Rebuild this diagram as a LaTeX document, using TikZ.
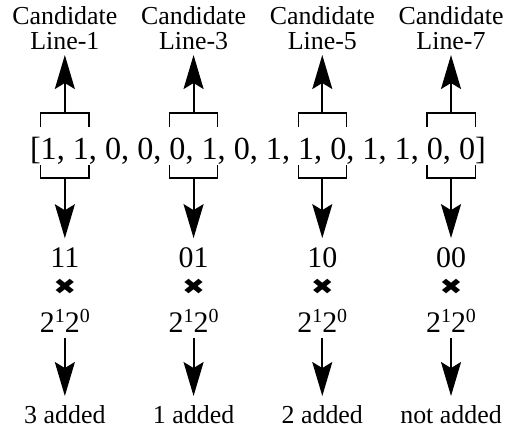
\documentclass[tikz,border=0pt]{standalone}
\usepackage{fontspec}
\setmainfont{Liberation Serif}
\newfontfamily\symfont{DejaVu Sans}
\usetikzlibrary{arrows.meta}
\newcommand{\supr}[1]{\raisebox{10bp}{\fontsize{20}{20}\selectfont #1}}
\begin{document}
\begin{tikzpicture}[x=1bp,y=-1bp,
  every node/.style={inner sep=0pt, outer sep=0pt},
  lbl/.style={font=\fontsize{26}{28}\selectfont},
  big/.style={font=\fontsize{32.3}{34}\selectfont},
  num/.style={font=\fontsize{30}{32}\selectfont},
  timesx/.style={font=\symfont\fontsize{22}{24}\selectfont, xscale=1.25},
  arr/.style={line width=2bp, -{Stealth[length=34bp,width=20bp,inset=6bp]}},
  brk/.style={line width=1.3bp}]
\useasboundingbox (0,0) rectangle (506,432);
% reference heights
\coordinate (yTop) at (0,113);
\coordinate (yTopLow) at (0,127);
\coordinate (yBotHigh) at (0,165);
\coordinate (yBot) at (0,178);
\coordinate (yCand) at (0,24);
\coordinate (yLine) at (0,49);
\coordinate (yVal) at (0,267);
\coordinate (yTimes) at (0,287);
\coordinate (yPow) at (0,332);
\coordinate (yRes) at (0,423);
% the array, built in pieces
\node[big, anchor=base west] (b0) at (30,159) {[};
\node[big, anchor=base west] (p1) at (b0.base east) {1,~1};
\node[big, anchor=base west] (s1) at (p1.base east) {,~0,~0,~\mbox{}};
\node[big, anchor=base west] (p2) at (s1.base east) {0,~1};
\node[big, anchor=base west] (s2) at (p2.base east) {,~0,~1,~\mbox{}};
\node[big, anchor=base west] (p3) at (s2.base east) {1,~0};
\node[big, anchor=base west] (s3) at (p3.base east) {,~1,~1,~\mbox{}};
\node[big, anchor=base west] (p4) at (s3.base east) {0,~0};
\node[big, anchor=base west] (b1) at (p4.base east) {]};
\foreach \i/\n/\v/\r in {1/1/11/3 added, 2/3/01/1 added, 3/5/10/2 added, 4/7/00/not added}{
  % brackets
  \draw[brk] (p\i.west |- yTopLow) -- (p\i.west |- yTop) -- (p\i.east |- yTop) -- (p\i.east |- yTopLow);
  \draw[brk] (p\i.west |- yBotHigh) -- (p\i.west |- yBot) -- (p\i.east |- yBot) -- (p\i.east |- yBotHigh);
  \coordinate (mt\i) at (p\i.base |- yTop);
  \coordinate (mb\i) at (p\i.base |- yBot);
  % labels
  \node[lbl, anchor=base] (ca\i) at (p\i.base |- yCand) {Candidate};
  \node[lbl, anchor=base] (cb\i) at (p\i.base |- yLine) {Line-\n};
  \node[num, anchor=base] (v\i) at (p\i.base |- yVal) {\v};
  \node[timesx] (x\i) at (p\i.base |- yTimes) {✖};
  \node[num, anchor=base] (w\i) at (p\i.base |- yPow) {2\supr{1}2\supr{0}};
  \node[lbl, anchor=base] (r\i) at (p\i.base |- yRes) {\r};
  % arrows
  \draw[arr] (mt\i) -- ([yshift=-6bp]cb\i.base);
  \draw[arr] (mb\i) -- ([yshift=9bp]v\i.north);
  \draw[arr] ([yshift=-6bp]w\i.base) -- ([yshift=9bp]r\i.north);
}
\end{tikzpicture}
\end{document}
